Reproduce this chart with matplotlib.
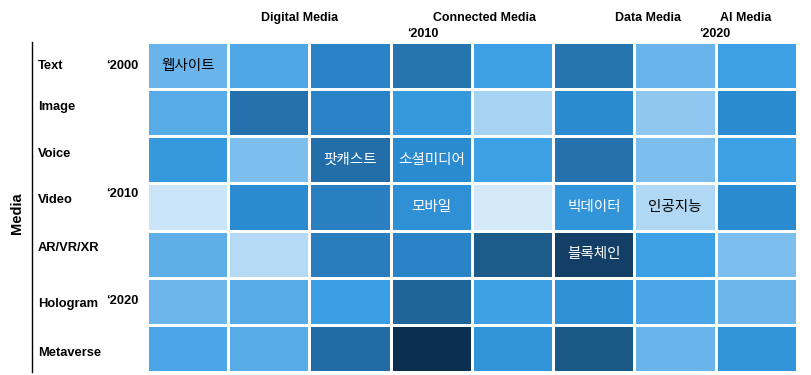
import numpy as np
import matplotlib
matplotlib.use("Agg")
import matplotlib.pyplot as plt
from matplotlib.colors import LinearSegmentedColormap
from matplotlib.lines import Line2D

rows = ["Text", "Image", "Voice", "Video", "AR/VR/XR", "Hologram", "Metaverse"]
values = [
    [0.25, 0.33, 0.50, 0.58, 0.38, 0.58, 0.25, 0.38],
    [0.30, 0.60, 0.50, 0.42, 0.10, 0.47, 0.15, 0.47],
    [0.42, 0.20, 0.62, 0.47, 0.38, 0.60, 0.20, 0.38],
    [0.02, 0.47, 0.52, 0.45, 0.00, 0.44, 0.08, 0.47],
    [0.28, 0.07, 0.53, 0.50, 0.74, 0.88, 0.38, 0.20],
    [0.24, 0.30, 0.40, 0.68, 0.38, 0.45, 0.34, 0.24],
    [0.34, 0.30, 0.64, 1.00, 0.44, 0.76, 0.25, 0.44],
]
annot_text = ["웹사이트", "팟캐스트", "소셜미디어", "모바일", "빅데이터", "인공지능", "블록체인"]
annot_row = [0, 2, 2, 3, 3, 3, 4]
annot_col = [0, 2, 3, 3, 5, 6, 5]
annot_color = ["black", "white", "white", "white", "white", "black", "white"]
era_labels = ["Digital Media", "Connected Media", "Data Media", "AI Media"]
era_x = [1.88, 4.15, 6.17, 7.37]
top_years = ["\u20182010", "\u20182020"]
top_years_x = [3.2, 6.79]
left_years = ["\u20182000", "\u20182010", "\u20182020"]
left_years_y = [0.50, 3.22, 5.49]
row_label_y = [0.51, 1.38, 2.37, 3.35, 4.37, 5.55, 6.59]

cmap = LinearSegmentedColormap.from_list("blues", [
    (0.0, "#d4e9f9"), (0.15, "#8fc7f0"), (0.30, "#56abe7"), (0.40, "#3a9fe4"),
    (0.47, "#2b8bd0"), (0.55, "#2878b6"), (0.65, "#216aa3"), (0.75, "#1b5a88"),
    (0.88, "#133f66"), (1.0, "#0a2f4f")])

latin = "Liberation Sans"
kr = ["Noto Sans CJK KR", "DejaVu Sans"]

fig = plt.figure(figsize=(8.12, 3.75), dpi=100)
W, H = 812, 375
ax = fig.add_axes([147 / W, (H - 372) / H, 650 / W, 330 / H])
data = np.array(values)
ax.pcolormesh(data, cmap=cmap, vmin=0, vmax=1, edgecolors="white", linewidth=2)
ax.set_xlim(0, data.shape[1])
ax.set_ylim(data.shape[0], 0)
ax.set_xticks([])
ax.set_yticks([])
for s in ax.spines.values():
    s.set_visible(False)

for t, r, c, col in zip(annot_text, annot_row, annot_col, annot_color):
    ax.text(c + 0.5, r + 0.5, t, ha="center", va="center", color=col,
            fontsize=10.5, family=kr)

ytr = ax.get_yaxis_transform()
for r, y in zip(rows, row_label_y):
    ax.text(-0.168, y, r, transform=ytr, ha="left", va="center",
            fontsize=9.3, fontweight="bold", family=latin, clip_on=False)
for t, y in zip(left_years, left_years_y):
    ax.text(-0.013, y, t, transform=ytr, ha="right", va="center",
            fontsize=9.3, fontweight="bold", family=latin, clip_on=False)

xtr = ax.get_xaxis_transform()
for t, x in zip(era_labels, era_x):
    ax.text(x, 1.074, t, transform=xtr, ha="center", va="center",
            fontsize=8.9, fontweight="bold", family=latin, clip_on=False)
for t, x in zip(top_years, top_years_x):
    ax.text(x, 1.025, t, transform=xtr, ha="left", va="center",
            fontsize=9.0, fontweight="bold", family=latin, clip_on=False)

ax.add_line(Line2D([-0.177, -0.177], [0.0, 1.0], transform=ax.transAxes,
                   color="black", lw=1, clip_on=False))
ax.text(-0.2, 0.48, "Media", transform=ax.transAxes, rotation=90,
        ha="center", va="center", fontsize=10.5, fontweight="bold",
        family=latin, clip_on=False)

fig.savefig("out.png", dpi=100)
